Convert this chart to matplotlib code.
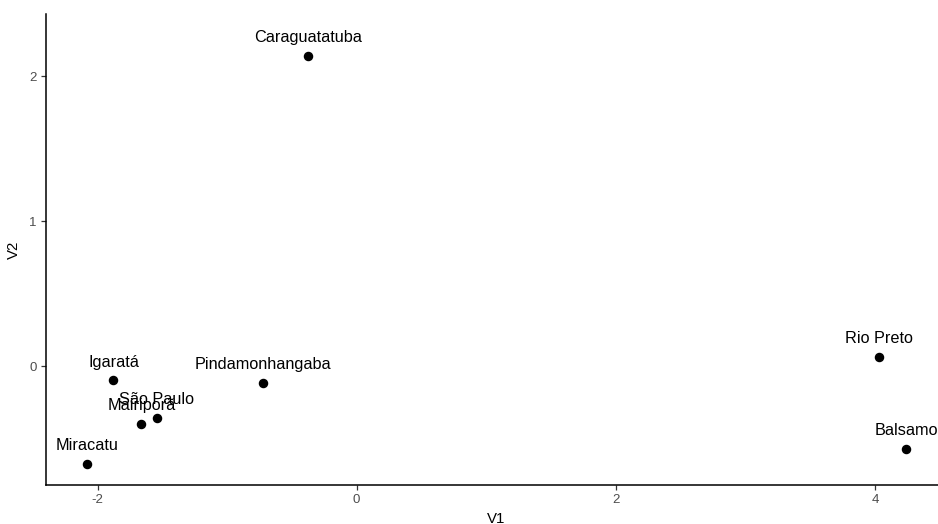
import numpy as np
import matplotlib.pyplot as plt

# MDS coordinates per municipality
cities = ["Caraguatatuba", "Igaratá", "Pindamonhangaba", "São Paulo",
          "Mairiporã", "Miracatu", "Rio Preto", "Balsamo"]
v1 = np.array([-0.372, -1.877, -0.725, -1.542, -1.662, -2.084, 4.03, 4.24])
v2 = np.array([2.14, -0.097, -0.114, -0.356, -0.397, -0.671, 0.065, -0.57])
nudge_y = 0.14

plt.rcParams['font.family'] = ['Liberation Sans', 'DejaVu Sans']
plt.rcParams['axes.unicode_minus'] = False

fig = plt.figure(figsize=(9.38, 5.24), dpi=100)
ax = fig.add_axes([45.7 / 938, 39 / 524, (947 - 45.7) / 938, (485 - 14) / 524])


def expand(lo, hi, mult=0.05):
    pad = (hi - lo) * mult
    return lo - pad, hi + pad


ax.scatter(v1, v2, s=34, color='black', zorder=3, clip_on=False)
for x, y, name in zip(v1, v2, cities):
    ax.annotate(name, (x, y + nudge_y), xytext=(0, -1.5),
                textcoords='offset points', ha='center', va='center',
                fontsize=11.7, color='black')

ax.set_xlim(*expand(v1.min(), v1.max()))
ax.set_ylim(*expand(v2.min(), (v2 + nudge_y).max()))
ax.set_xticks([-2, 0, 2, 4])
ax.set_yticks([0, 1, 2])

for side in ['top', 'right']:
    ax.spines[side].set_visible(False)
for side in ['left', 'bottom']:
    ax.spines[side].set_linewidth(1.1)
    ax.spines[side].set_color('black')
ax.tick_params(length=3.5, width=0.9, color='#333333', labelcolor='#4d4d4d',
               labelsize=9.5, pad=3)

ax.set_xlabel("V1", fontsize=10.8, labelpad=4)
ax.set_ylabel("V2", fontsize=10.8, labelpad=6)

fig.savefig("out.png", dpi=100)
